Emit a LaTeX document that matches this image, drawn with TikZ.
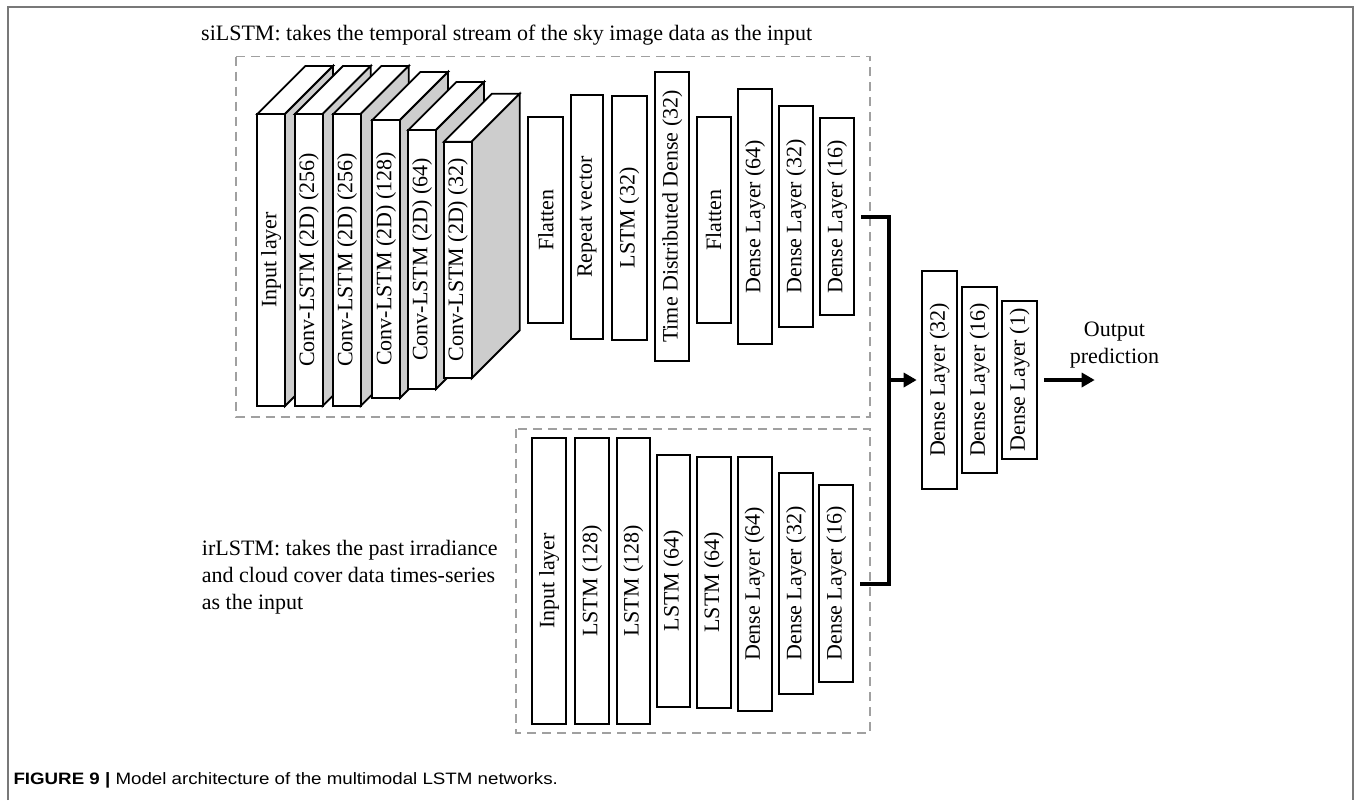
\documentclass[tikz,border=0pt]{standalone}
\usepackage{fontspec}
\setmainfont{Liberation Serif}
\newfontfamily\capfont{Liberation Sans}
\usetikzlibrary{arrows.meta,calc}
\definecolor{sidegray}{RGB}{205,205,205}
\definecolor{dashgray}{RGB}{160,160,160}
\definecolor{framegray}{RGB}{120,120,120}
\tikzset{
  layerbox/.style={draw=black, line width=1.8pt, fill=white, inner sep=0pt, outer sep=0pt,
    font=\fontsize{22}{26.7}\selectfont},
  blockline/.style={draw=black, line width=1.8pt},
  groupbox/.style={draw=dashgray, line width=1.6pt, dash pattern=on 9pt off 6pt},
  conn/.style={line width=4pt, draw=black},
  arrowconn/.style={conn, -{Triangle[length=13pt,width=14pt]}},
  txtlabel/.style={font=\fontsize{22}{26.7}\selectfont, inner sep=0pt},
}
\newcommand\cubeblock[6]{%
  \filldraw[blockline, fill=white] (#1,#2) -- ++(48,-48) -- ++({#3-#1},0) -- (#3,#2) -- cycle;
  \filldraw[blockline, fill=sidegray] (#3,#2) -- ++(48,-48) -- ++(0,{#4-#2}) -- (#3,#4) -- cycle;
  \node[layerbox, anchor=north west, minimum width={#3-#1}, minimum height={#4-#2}] (#5) at (#1,#2) {\rotatebox{90}{#6}};
}
\newcommand\flatbox[6]{% name, cx, cy, w, h, text
  \node[layerbox, minimum width=#4, minimum height=#5] (#1) at (#2,#3) {\rotatebox{90}{#6}};
}
\begin{document}
\begin{tikzpicture}[x=1pt,y=-1pt]
\useasboundingbox (0,0) rectangle (1356,800);
% outer frame
\draw[framegray, line width=2pt] (8.3,800) -- (8.3,6.7) -- (1353.3,6.7) -- (1353.3,800);

% title texts
\node[txtlabel, anchor=base west] (title) at (201,40.5) {siLSTM: takes the temporal stream of the sky image data as the input};
\node[txtlabel, anchor=north west, align=left] (irtext) at (201.7,540.5) {irLSTM: takes the past irradiance\\and cloud cover data times-series\\as the input};

% group frames
\draw[groupbox] (236,56.7) rectangle (870,417);
\draw[groupbox] (516,429) rectangle (870,733);

% 3D conv blocks
\cubeblock{257.3}{114}{285}{406}{in1}{Input layer}
\cubeblock{295}{114}{322.7}{406}{cl1}{Conv-LSTM (2D) (256)}
\cubeblock{333.3}{114}{360.7}{406}{cl2}{Conv-LSTM (2D) (256)}
\cubeblock{372.3}{120}{400}{398}{cl3}{Conv-LSTM (2D) (128)}
\cubeblock{408.3}{130}{436}{389}{cl4}{Conv-LSTM (2D) (64)}
\cubeblock{444}{141.7}{471.7}{378.3}{cl5}{Conv-LSTM (2D) (32)}

% upper flat layers
\flatbox{fl1}{545.8}{220.3}{35}{206}{Flatten}
\flatbox{rv}{587}{217}{32.6}{244}{Repeat vector}
\flatbox{ls32}{629.2}{217.8}{35}{244.3}{LSTM (32)}
\flatbox{tdd}{672.2}{216.5}{34.3}{288.4}{Time Distributed Dense (32)}
\flatbox{fl2}{713.7}{220.3}{34}{206}{Flatten}
\flatbox{ud64}{755}{216.7}{33.4}{254.7}{Dense Layer (64)}
\flatbox{ud32}{796.2}{216.5}{34.3}{221.6}{Dense Layer (32)}
\flatbox{ud16}{837}{216.7}{34}{197}{Dense Layer (16)}

% lower layers
\flatbox{lin}{549}{580.9}{33.4}{286.3}{Input layer}
\flatbox{l128a}{592}{580.9}{34}{286.3}{LSTM (128)}
\flatbox{l128b}{633.3}{580.9}{33.4}{286.3}{LSTM (128)}
\flatbox{l64a}{673.3}{580.9}{33.4}{251.7}{LSTM (64)}
\flatbox{l64b}{713.7}{582.2}{34}{251}{LSTM (64)}
\flatbox{ld64}{754.7}{583.7}{34}{254}{Dense Layer (64)}
\flatbox{ld32}{796}{583.5}{33.4}{221.6}{Dense Layer (32)}
\flatbox{ld16}{836.3}{583.5}{34}{197.6}{Dense Layer (16)}

% final layers
\flatbox{fd32}{939.5}{380}{34.4}{218.6}{Dense Layer (32)}
\flatbox{fd16}{979.5}{380}{34.4}{185.7}{Dense Layer (16)}
\flatbox{fd1}{1019.5}{380}{34.4}{158.4}{Dense Layer (1)}

% connectors
\coordinate (jx) at (889.3,380);
\coordinate (s1) at ($(ud16.east)+(7,0)$);
\coordinate (s2) at ($(ld16.east)+(7,0)$);
\draw[conn] (s1) -- (s1 -| jx) -- (s2 -| jx) -- (s2);
\draw[arrowconn] (jx) -- ($(fd32.west)+(-5.6,0)$);
\coordinate (outtip) at ($(fd1.east)+(58,0)$);
\draw[arrowconn] ($(fd1.east)+(7.3,0)$) -- (outtip);
\node[txtlabel, align=center] (outtxt) at (1114.5,345) {Output\\prediction};

% caption
\node[anchor=base west, inner sep=0pt, font=\capfont\fontsize{16.5}{20}\selectfont] (cap) at (13.3,784.3)
  {\scalebox{1.135}[1]{\textbf{FIGURE 9 |} Model architecture of the multimodal LSTM networks.}};
\end{tikzpicture}
\end{document}
